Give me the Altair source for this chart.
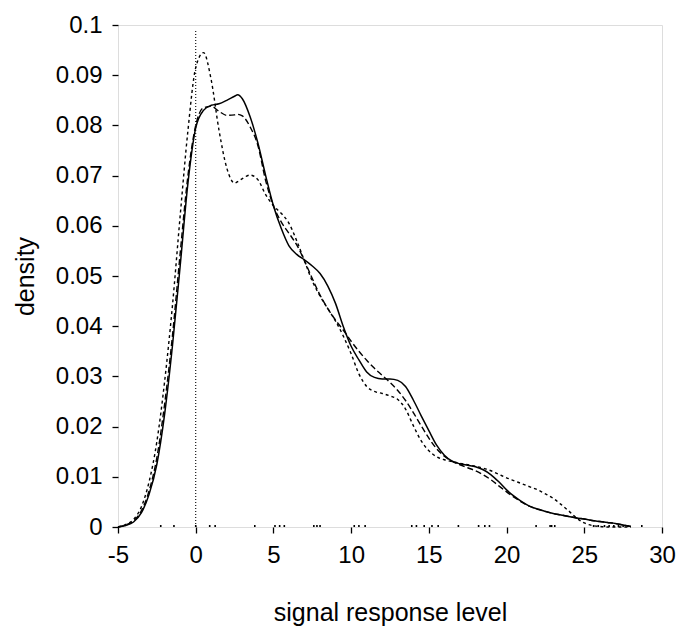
import altair as alt
import pandas as pd

# ---- data ----
xs = [-5, -4.5, -4, -3.5, -3, -2.5, -2, -1.5, -1, -0.5, 0, 0.5, 1, 1.5, 2, 2.5, 2.7, 3, 3.5, 4, 4.5,
      5, 5.5, 6, 6.5, 7, 7.5, 8, 8.5, 9, 9.5, 10, 10.5, 11, 11.5, 12, 12.5, 13, 13.5, 14, 14.5,
      15, 15.5, 16, 16.5, 17, 17.5, 18, 18.5, 19, 19.5, 20, 20.5, 21, 21.5, 22, 22.5, 23, 23.5,
      24, 24.5, 25, 25.5, 26, 26.5, 27, 27.5, 28]

solid = [0.0000, 0.0003, 0.0010, 0.0028, 0.0065, 0.0125, 0.0225, 0.0360, 0.0520, 0.0685,
         0.0795, 0.0830, 0.0840, 0.0843, 0.0850, 0.0858, 0.0861, 0.0853, 0.0817, 0.0765, 0.0700,
         0.0640, 0.0595, 0.0560, 0.0543, 0.0532, 0.0520, 0.0505, 0.0480, 0.0445, 0.0399,
         0.0360, 0.0333, 0.0309, 0.0298, 0.0295, 0.0295, 0.0292, 0.0280, 0.0253, 0.0222,
         0.0192, 0.0163, 0.0143, 0.0131, 0.0126, 0.0123, 0.0120, 0.0114, 0.0104, 0.0090,
         0.0074, 0.0061, 0.0050, 0.0041, 0.0036, 0.0031, 0.0027, 0.0024, 0.0021, 0.0018,
         0.0016, 0.0013, 0.0011, 0.0009, 0.0007, 0.0004, 0.0001]

dashed = [0.0000, 0.0004, 0.0012, 0.0032, 0.0072, 0.0138, 0.0245, 0.0380, 0.0545, 0.0700,
          0.0800, 0.0835, 0.0838, 0.0828, 0.0820, 0.0821, 0.0822, 0.0819, 0.0797, 0.0760, 0.0690,
          0.0640, 0.0608, 0.0585, 0.0562, 0.0530, 0.0495, 0.0462, 0.0435, 0.0412, 0.0392,
          0.0370, 0.0350, 0.0332, 0.0316, 0.0302, 0.0288, 0.0272, 0.0252, 0.0228, 0.0202,
          0.0177, 0.0156, 0.0141, 0.0131, 0.0124, 0.0118, 0.0112, 0.0104, 0.0094, 0.0082,
          0.0070, 0.0059, 0.0049, 0.0041, 0.0035, 0.0031, 0.0027, 0.0024, 0.0021, 0.0018,
          0.0016, 0.0013, 0.0011, 0.0009, 0.0007, 0.0004, 0.0001]

dotted = [0.0000, 0.0005, 0.0015, 0.0040, 0.0090, 0.0170, 0.0290, 0.0440, 0.0620, 0.0790,
          0.0915, 0.0945, 0.0890, 0.0790, 0.0715, 0.0685, 0.0688, 0.0694, 0.0701, 0.0692, 0.0662,
          0.0640, 0.0625, 0.0605, 0.0570, 0.0530, 0.0490, 0.0460, 0.0435, 0.0410, 0.0380,
          0.0345, 0.0305, 0.0280, 0.0270, 0.0266, 0.0261, 0.0254, 0.0235, 0.0202, 0.0172,
          0.0152, 0.0140, 0.0134, 0.0130, 0.0127, 0.0124, 0.0121, 0.0117, 0.0112, 0.0105,
          0.0098, 0.0092, 0.0086, 0.0080, 0.0074, 0.0066, 0.0057, 0.0045, 0.0032, 0.0018,
          0.0008, 0.0003, 0.0001, 0.0000, 0.0000, 0.0000, 0.0000]

rug_x = [-2.25, -1.4, 0, 0.9, 1.25, 3.8, 5.1, 5.4, 5.7, 7.6, 7.8, 8.0, 10.2, 10.5, 10.9,
         13.9, 14.2, 14.7, 15.2, 15.6, 16.9, 18.2, 18.6, 18.9, 21.9, 22.8, 22.9, 23.1,
         25.6, 25.9, 26.3, 26.6, 26.9, 27.2, 27.5, 27.8, 28.7]

spike_x = [0]
spike_top = [0.099]

x_ticks = [-5, 0, 5, 10, 15, 20, 25, 30]
y_ticks = [0, 0.01, 0.02, 0.03, 0.04, 0.05, 0.06, 0.07, 0.08, 0.09, 0.1]

FONT = "Liberation Sans"

df = pd.DataFrame({"x": xs, "solid": solid, "dashed": dashed, "dotted": dotted})
rug_df = pd.DataFrame({"x": rug_x, "y": [0] * len(rug_x)})
spike_df = pd.DataFrame({"x": spike_x, "y": [0] * len(spike_x), "y2": spike_top})

xscale = alt.Scale(domain=[-5, 30], nice=False, zero=False)
yscale = alt.Scale(domain=[0, 0.1], nice=False, zero=False)

xaxis = alt.Axis(values=x_ticks, labelExpr="'' + datum.value", title="signal response level",
                 domain=False, grid=False, ticks=True, tickSize=6, tickColor="black",
                 tickWidth=1.3, labelPadding=10, labelFontSize=24, labelFont=FONT,
                 labelColor="black", titleFontSize=25, titleFont=FONT, titleFontWeight="normal",
                 titleColor="black", titleBaseline="alphabetic", titleY=93, titleX=272,
                 titleAlign="center", labelFlush=False, labelOverlap=False)
yaxis = alt.Axis(values=y_ticks, labelExpr="'' + datum.value", title="density",
                 domain=False, grid=False, ticks=True, tickSize=6, tickColor="black",
                 tickWidth=1.3, labelPadding=10, labelFontSize=24, labelFont=FONT,
                 labelColor="black", titleFontSize=25, titleFont=FONT, titleFontWeight="normal",
                 titleColor="black", titleAngle=270, titleBaseline="alphabetic",
                 titleX=-85, titleY=251, titleAlign="center", labelFlush=False,
                 labelOverlap=False)

base = alt.Chart(df)

line_solid = base.mark_line(color="black", strokeWidth=1.5, interpolate="monotone").encode(
    x=alt.X("x:Q", scale=xscale, axis=xaxis),
    y=alt.Y("solid:Q", scale=yscale, axis=yaxis),
)
line_dashed = base.mark_line(color="black", strokeWidth=1.4, strokeDash=[6, 3],
                             interpolate="monotone").encode(
    x=alt.X("x:Q", scale=xscale),
    y=alt.Y("dashed:Q", scale=yscale),
)
line_dotted = base.mark_line(color="black", strokeWidth=1.4, strokeDash=[3, 3],
                             interpolate="monotone").encode(
    x=alt.X("x:Q", scale=xscale),
    y=alt.Y("dotted:Q", scale=yscale),
)
spike = alt.Chart(spike_df).mark_rule(color="black", strokeWidth=1.1, strokeDash=[1, 2]).encode(
    x=alt.X("x:Q", scale=xscale),
    y=alt.Y("y:Q", scale=yscale),
    y2="y2:Q",
)
rug = alt.Chart(rug_df).mark_tick(color="black", size=2, thickness=1.6, opacity=1,
                                  yOffset=-1).encode(
    x=alt.X("x:Q", scale=xscale),
    y=alt.Y("y:Q", scale=yscale),
)

chart = alt.layer(spike, rug, line_dotted, line_dashed, line_solid).properties(
    width=544, height=502,
    autosize=alt.AutoSizeParams(type="none"),
    padding={"left": 118, "top": 25, "right": 15, "bottom": 101},
).configure_view(stroke=None).configure(background="white")

chart.save("out.html", embed_options={"renderer": "svg", "actions": False})
